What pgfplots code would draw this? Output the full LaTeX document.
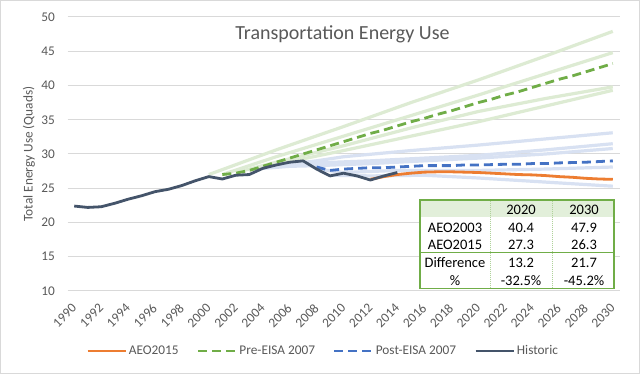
\documentclass[border=0pt]{standalone}
\usepackage{pgfplots}
\pgfplotsset{compat=1.18}
\usepackage{fontspec}
\setmainfont{Carlito}
\definecolor{cOrange}{HTML}{ED7D31}
\definecolor{cGreen}{HTML}{70AD47}
\definecolor{cBlue}{HTML}{4472C4}
\definecolor{cHist}{HTML}{44546A}
\definecolor{lGreen}{HTML}{DDEBD3}
\definecolor{lBlue}{HTML}{D8E1F2}
\definecolor{gridGray}{HTML}{D9D9D9}
\definecolor{tickGray}{HTML}{595959}
\definecolor{hdrGreen}{HTML}{E2EFDA}
\begin{document}
\begin{tikzpicture}
\useasboundingbox (0,0) rectangle (640bp,374bp);
\fill[white] (0,0) rectangle (640bp,374bp);
\draw[gridGray, line width=1bp] (0.5bp,0.5bp) rectangle (639.5bp,373.5bp);
\begin{axis}[
  at={(67.5bp,83bp)}, anchor=south west,
  scale only axis, width=552bp, height=274bp,
  xmin=1989.5, xmax=2030.5, ymin=10, ymax=50,
  xtick={1990,1992,...,2030}, ytick={10,15,...,50},
  ymajorgrids, grid style={gridGray, line width=1bp},
  axis line style={draw=none},
  major tick length=0pt,
  tick label style={font=\fontsize{13.3bp}{16bp}\selectfont, text=tickGray},
  /pgf/number format/assume math mode=true,
  /pgf/number format/1000 sep={},
  xticklabel style={rotate=45, anchor=east, inner sep=0pt},
  xticklabel shift=15bp,
  yticklabel style={anchor=east, inner sep=0pt},
  yticklabel shift=12.5bp,
  every axis y label/.style={at={(axis description cs:-0.0697,0.5)}, rotate=90, anchor=center},
  ylabel={Total Energy Use (Quads)},
  ylabel style={font=\fontsize{13.3bp}{16bp}\selectfont, text=tickGray},
  legend columns=4,
  legend style={at={(axis description cs:0.463,-0.219)}, anchor=center, draw=none, fill=none,
    font=\fontsize{13.3bp}{16bp}\selectfont, text=tickGray,
    /tikz/every even column/.append style={column sep=16bp},
    nodes={inner sep=2bp}},
  legend image code/.code={\draw[#1] (0bp,0bp) -- (38bp,0bp);},
  line join=round,
]
% light green (other pre-EISA projections)
\addplot[lGreen, line width=3.2bp, forget plot] coordinates {(2000,27.0)(2005,30.6)(2010,34.0)(2015,37.5)(2020,40.8)(2025,44.3)(2030,47.9)};
\addplot[lGreen, line width=3.2bp, forget plot] coordinates {(2001,27.0)(2005,29.6)(2010,32.6)(2015,35.6)(2020,38.6)(2025,41.7)(2030,44.8)};
\addplot[lGreen, line width=3.2bp, forget plot] coordinates {(2002,27.3)(2006,29.3)(2010,31.2)(2015,33.8)(2020,36.2)(2025,38.1)(2030,39.8)};
\addplot[lGreen, line width=3.2bp, forget plot] coordinates {(2003,27.6)(2006,28.9)(2010,30.5)(2015,32.6)(2020,34.7)(2025,37.0)(2030,39.3)};
% light blue (other post-EISA projections)
\addplot[lBlue, line width=3.2bp, forget plot] coordinates {(2005,28.3)(2008,29.0)(2010,29.6)(2015,30.5)(2020,31.3)(2025,32.2)(2030,33.1)};
\addplot[lBlue, line width=3.2bp, forget plot] coordinates {(2006,28.6)(2008,28.7)(2012,29.0)(2016,29.4)(2020,29.8)(2025,30.6)(2030,31.5)};
\addplot[lBlue, line width=3.2bp, forget plot] coordinates {(2004,27.9)(2006,28.2)(2008,28.3)(2012,28.6)(2016,29.0)(2020,29.4)(2025,30.0)(2030,30.8)};
\addplot[lBlue, line width=3.2bp, forget plot] coordinates {(2008,27.8)(2010,27.3)(2014,27.6)(2020,27.6)(2025,27.8)(2030,28.1)};
\addplot[lBlue, line width=3.2bp, forget plot] coordinates {(2009,26.9)(2012,26.8)(2016,26.9)(2020,26.5)(2025,25.9)(2030,25.3)};
% AEO2015
\addplot[cOrange, line width=2.8bp] coordinates {(2012,26.3)(2013,26.7)(2014,27.0)(2015,27.2)(2016,27.35)(2017,27.4)(2018,27.4)(2019,27.35)(2020,27.3)(2021,27.2)(2022,27.1)(2023,27.0)(2024,26.95)(2025,26.85)(2026,26.7)(2027,26.6)(2028,26.45)(2029,26.35)(2030,26.3)};
\addlegendentry{AEO2015}
% Pre-EISA 2007
\addplot[cGreen, line width=2.8bp, dash pattern=on 9bp off 5bp] coordinates {(2001,27.0)(2002,27.2)(2003,27.6)(2004,28.2)(2005,28.8)(2006,29.4)(2007,30.0)(2008,30.6)(2009,31.2)(2010,31.8)(2011,32.4)(2012,33.0)(2013,33.5)(2014,34.1)(2015,34.7)(2016,35.2)(2017,35.8)(2018,36.3)(2019,36.9)(2020,37.5)(2021,38.0)(2022,38.6)(2023,39.1)(2024,39.7)(2025,40.3)(2026,40.9)(2027,41.4)(2028,42.0)(2029,42.6)(2030,43.2)};
\addlegendentry{Pre-EISA 2007}
% Post-EISA 2007
\addplot[cBlue, line width=2.8bp, dash pattern=on 9bp off 5bp] coordinates {(2008,28.1)(2009,27.6)(2010,27.8)(2011,27.9)(2012,28.0)(2013,28.0)(2014,28.1)(2015,28.2)(2016,28.3)(2017,28.3)(2018,28.3)(2019,28.4)(2020,28.4)(2021,28.45)(2022,28.5)(2023,28.5)(2024,28.6)(2025,28.6)(2026,28.7)(2027,28.75)(2028,28.8)(2029,28.9)(2030,29.0)};
\addlegendentry{Post-EISA 2007}
% Historic
\addplot[cHist, line width=2.8bp] coordinates {(1990,22.4)(1991,22.2)(1992,22.3)(1993,22.8)(1994,23.4)(1995,23.9)(1996,24.5)(1997,24.85)(1998,25.4)(1999,26.1)(2000,26.7)(2001,26.35)(2002,26.9)(2003,27.0)(2004,27.9)(2005,28.4)(2006,28.8)(2007,29.0)(2008,27.8)(2009,26.8)(2010,27.2)(2011,26.8)(2012,26.2)(2013,26.8)(2014,27.3)};
\addlegendentry{Historic}
\end{axis}
% title
\node[anchor=base, font=\fontsize{20bp}{24bp}\selectfont, text=tickGray] at (342.5bp,334.7bp) {Transportation Energy Use};
% table
\begin{scope}[font=\fontsize{14.5bp}{17bp}\selectfont]
\fill[white] (420bp,85.7bp) rectangle (614bp,174bp);
\fill[hdrGreen] (420bp,156.7bp) rectangle (614bp,174bp);
\draw[cGreen!55, line width=0.8bp, dash pattern=on 1bp off 1bp] (490.7bp,85.7bp) -- (490.7bp,174bp);
\draw[cGreen!55, line width=0.8bp, dash pattern=on 1bp off 1bp] (552.3bp,85.7bp) -- (552.3bp,174bp);
\draw[cGreen, line width=1.2bp] (420bp,121.3bp) -- (614bp,121.3bp);
\draw[cGreen, line width=1.5bp] (420bp,85.7bp) rectangle (614bp,174bp);
\node[anchor=base] at (521bp,159.4bp) {2020};
\node[anchor=base] at (584bp,159.4bp) {2030};
\node[anchor=base] at (455bp,141.7bp) {AEO2003};
\node[anchor=base] at (521bp,141.7bp) {40.4};
\node[anchor=base] at (584bp,141.7bp) {47.9};
\node[anchor=base] at (455bp,124.1bp) {AEO2015};
\node[anchor=base] at (521bp,124.1bp) {27.3};
\node[anchor=base] at (584bp,124.1bp) {26.3};
\node[anchor=base] at (455bp,106.1bp) {Difference};
\node[anchor=base] at (521bp,106.1bp) {13.2};
\node[anchor=base] at (584bp,106.1bp) {21.7};
\node[anchor=base] at (455bp,88.7bp) {\%};
\node[anchor=base] at (521bp,88.7bp) {-32.5\%};
\node[anchor=base] at (584bp,88.7bp) {-45.2\%};
\end{scope}
\end{tikzpicture}
\end{document}
